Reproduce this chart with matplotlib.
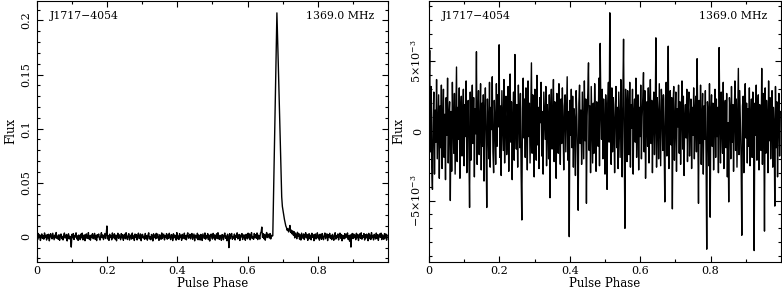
import numpy as np
import matplotlib
matplotlib.use("Agg")
import matplotlib.pyplot as plt
from matplotlib.ticker import MultipleLocator, FixedLocator, FixedFormatter

# pulsar name / frequency shown in both panels
psr_name = "J1717\u22124054"
freq_label = "1369.0 MHz"

# left panel: total intensity profile, 512 bins, units of 1e-4
flux_left_1e4 = [
    12, -25, 31, -8, 18, -34, 5, 27, -15, 9, -22, 36, -4, 14, -30, 21,
    -11, 24, -37, 8, 29, -6, -19, 33, 2, -27, 16, -9, 40, -14, 7, -23,
    19, -32, 11, 26, -17, 4, -29, 15, 35, -12, -3, 22, -38, 10, 28, -20,
    6, -16, -95, 23, -8, 30, -25, 13, -2, 37, -19, 9, -33, 17, 3, -26,
    25, -10, 34, -28, 1, 18, -36, 12, 27, -15, -5, 39, -21, 8, -31, 16,
    -7, 29, -18, 3, 32, -24, 14, -35, 20, -1, 26, -13, -30, 11, 38, -9,
    17, -26, 5, 31, -16, 22, 100, -20, 9, -33, 24, -6, 13, -28, 36, -11,
    2, 28, -22, 15, -37, 7, 33, -14, 19, -4, -27, 30, -10, 21, -32, 6,
    24, -18, 38, -7, -25, 12, 29, -30, 4, 16, -21, 35, -13, 8, -34, 26,
    -3, 20, -29, 11, 34, -17, -8, 27, -36, 14, 23, -11, 5, -24, 31, -15,
    9, -31, 18, 37, -20, 1, -27, 22, 13, -38, 28, -5, 15, -19, 32, -12,
    26, -9, -33, 19, 7, -23, 36, -16, 3, 25, -29, 10, -6, 30, -22, 17,
    -14, 33, -2, -26, 21, 12, -35, 28, -10, 16, 6, -31, 39, -18, 8, -25,
    29, -7, 14, -32, 23, -15, 4, 34, -21, 11, -28, 19, 37, -13, -4, 24,
    -19, 10, 31, -24, 2, 26, -37, 15, 7, -12, 33, -27, 18, -3, -30, 22,
    13, -34, 27, 5, -16, 36, -22, 9, -8, 30, -26, 16, -39, 12, 25, -5,
    -21, 32, -11, 18, -30, 6, 28, -17, 38, -9, -24, 14, 3, -33, 21, 10,
    -27, 17, 35, -14, 8, -36, 24, -2, -100, 29, -18, 11, 31, -23, 4, -12,
    26, -29, 13, -6, 37, -20, 9, 22, -34, 16, -1, 30, -25, 7, 19, -15,
    -32, 23, 6, -19, 34, -10, 27, -28, 12, 39, -16, 3, -23, 31, -8, 20,
    -13, 36, -26, 15, 8, -21, 33, 45, 90, -5, 29, -17, 22, -31, 11, 40,
    -7, 25, 18, -12, 30, -20, 14, 6, 10, 350, 700, 1050, 1400, 1750, 2070, 1850,
    1600, 1350, 1100, 850, 600, 370, 280, 240, 200, 160, 130, 100, 85, 60, 75, 45,
    70, 105, 40, 62, 28, 55, 15, 48, -10, 35, 20, -18, 42, 5, 30, -22,
    18, -30, 34, 8, -14, 27, -25, 12, 38, -9, 21, -33, 6, 29, -17, 15,
    -28, 33, -4, 19, -36, 11, 26, -20, 3, 37, -12, 16, -31, 24, 9, -23,
    30, -8, -27, 14, 35, -18, 7, 28, -35, 20, -2, 32, -15, 10, -26, 23,
    5, -32, 17, 38, -21, 12, -6, 27, -29, 8, 34, -13, 21, -37, 14, 2,
    -19, 29, -11, 24, -3, 36, -24, 9, -40, 18, -95, 13, 31, -16, 26, -7,
    15, -27, 33, -9, 22, -34, 6, 28, -14, 37, -22, 11, -5, 30, -30, 19,
    -12, 25, 8, -36, 32, -17, 16, -25, 39, -8, 13, -29, 23, 4, -20, 35,
    -15, 21, -33, 10, 27, -6, 34, -26, 18, 1, -23, 30, -11, 26, -31, 14,
]

# right panel: residual profile, 512 bins, units of 1e-5
flux_right_1e5 = [
    210, 580, -150, 320, -260, -420, 90, 280, -310, 150, -80, 370, -200, 40, 260, -340,
    180, -120, 330, -270, 60, 300, -190, 120, -350, 240, -30, 380, -230, 110, 210, -500,
    140, -290, 350, 20, -160, 270, -310, 80, 460, -220, 170, -60, 310, -340, 130, 250,
    -180, 90, 300, -250, 190, -40, 360, -300, 70, 220, -130, -550, 280, -210, 150, 330,
    -90, 240, -330, 160, -20, 570, -240, 100, 290, -170, 40, 340, -280, 200, -110, 260,
    -360, 130, 310, -70, -550, 230, 50, -200, 350, -260, 170, 10, 390, -150, -300, 220,
    80, -240, 340, -110, 260, 30, 620, -190, 180, -320, 290, 60, -140, 370, -230, 120,
    250, -170, -20, 320, -290, 150, 410, -80, 210, -350, 100, 280, -210, 550, 40, -130,
    190, -260, 330, 70, -120, 270, -300, -640, 160, 380, -50, 230, -190, 310, 120, -280,
    360, -40, 200, -230, 130, 490, -160, 260, 20, -330, 300, 90, -210, 400, -100, 170,
    -270, 240, 60, 350, -180, 140, -310, 280, 110, -60, 320, -250, 190, 30, -200, 260,
    -480, 150, 300, -130, 80, 370, -220, 210, -20, -340, 270, 130, -160, 340, 0, -240,
    230, -90, 310, 50, -280, 180, 260, -150, 100, 390, -210, 140, -760, 220, -30, 300,
    -120, 250, -260, 160, 70, -320, 290, 120, -180, -570, 200, 330, -90, 150, -240, 280,
    40, -200, 360, -70, 230, -520, 110, 270, 490, -140, 180, -300, 320, 60, -230, 200,
    -160, 340, 90, -290, 210, 140, -110, 380, -250, 630, 170, -60, 300, -200, 230, 20,
    -310, 260, 130, -420, 200, 350, -80, 850, 90, -240, 310, -150, 240, 60, -300, 190,
    320, -120, 170, -270, 280, 40, -190, 370, 110, -330, 250, 660, -100, -700, 300, 150,
    -220, 290, 80, -170, 350, -260, 190, 20, 300, -310, 140, 230, -80, 380, -190, 120,
    260, -280, 170, -40, 330, -200, 100, 240, 420, -150, 290, -340, 60, 210, -110, 310,
    -230, 160, 370, -90, 220, -300, 130, 280, -170, 50, 670, -260, 240, 110, -200, 340,
    20, -250, 300, 180, -140, 260, -60, -510, 230, 350, -180, 90, 610, -270, 150, 290,
    -100, 240, -560, 200, 320, -210, 70, 280, -290, 160, 30, 330, -160, 210, -240, 120,
    360, -130, 250, -320, 90, 190, -50, 300, -220, 140, 280, -180, 60, 230, -270, 170,
    -30, 310, -200, 130, 250, -150, 520, 40, -520, 220, -90, 330, -240, 100, 270, -310,
    180, -60, 290, -170, -850, 210, 120, -250, 340, -620, 150, 260, -110, 200, -280, 80,
    300, -190, 230, -40, 170, -300, 600, 90, -230, 280, 10, -160, 350, -270, 140, 220,
    -120, 270, -330, 60, -510, 240, 150, -200, 320, -80, 190, -290, 110, 360, -140, 230,
    -260, 80, 450, -170, 290, 30, -210, -750, 180, 250, -300, 130, 340, -50, 200, -230,
    160, -110, 310, -250, 70, 230, -190, 280, 120, -860, 200, -30, 330, -210, 150, 260,
    -280, 190, 40, -140, 450, -240, 270, 100, -720, 310, -160, 220, 80, -300, 360, -70,
    240, -200, 130, 290, -260, 170, 50, -540, 320, -120, 210, -330, 90, 270, -180, 140,
]

flux_left = np.array(flux_left_1e4) * 1e-4
flux_right = np.array(flux_right_1e5) * 1e-5
phase_left = np.arange(len(flux_left)) / len(flux_left)
phase_right = np.arange(len(flux_right)) / len(flux_right)

plt.rcParams['font.family'] = ['DejaVu Serif']
plt.rcParams['mathtext.fontset'] = 'dejavuserif'

fig = plt.figure(figsize=(7.82, 2.91), dpi=100)
ax1 = fig.add_axes([0.0473, 0.1007, 0.4488, 0.8959])
ax2 = fig.add_axes([0.5486, 0.1007, 0.4501, 0.8959])


def style(ax):
    ax.set_xlim(0, 1)
    ax.xaxis.set_major_locator(FixedLocator([0, 0.2, 0.4, 0.6, 0.8]))
    ax.xaxis.set_major_formatter(FixedFormatter(["0", "0.2", "0.4", "0.6", "0.8"]))
    ax.xaxis.set_minor_locator(MultipleLocator(0.1))
    ax.tick_params(which='both', direction='in', top=True, right=True,
                   labelsize=8, width=0.8, color='black')
    ax.tick_params(which='major', length=4)
    ax.tick_params(which='minor', length=2)
    ax.tick_params(axis='x', pad=3)
    ax.tick_params(axis='y', pad=4)
    for lbl in ax.get_yticklabels():
        lbl.set_rotation(90)
        lbl.set_va('center')
    for s in ax.spines.values():
        s.set_linewidth(0.8)
    ax.set_xlabel("Pulse Phase", fontsize=8.5, labelpad=1)
    ax.set_ylabel("Flux", fontsize=8.5, labelpad=3)
    ax.text(0.037, 0.942, psr_name, transform=ax.transAxes, fontsize=7.8,
            ha='left', va='center')
    ax.text(0.96, 0.942, freq_label, transform=ax.transAxes, fontsize=7.8,
            ha='right', va='center')


ax1.plot(phase_left, flux_left, color='black', lw=1.0)
ax1.set_ylim(-0.023, 0.218)
ax1.yaxis.set_major_locator(FixedLocator([0, 0.05, 0.1, 0.15, 0.2]))
ax1.yaxis.set_major_formatter(FixedFormatter(["0", "0.05", "0.1", "0.15", "0.2"]))
ax1.yaxis.set_minor_locator(MultipleLocator(0.01))
style(ax1)

ax2.plot(phase_right, flux_right, color='black', lw=1.0)
ax2.set_ylim(-9.4e-3, 9.35e-3)
ax2.yaxis.set_major_locator(FixedLocator([-5e-3, 0, 5e-3]))
ax2.yaxis.set_major_formatter(FixedFormatter([r"$-5{\times}10^{-3}$", "0", r"$5{\times}10^{-3}$"]))
ax2.yaxis.set_minor_locator(MultipleLocator(1e-3))
style(ax2)

fig.savefig("out.png", dpi=100)
